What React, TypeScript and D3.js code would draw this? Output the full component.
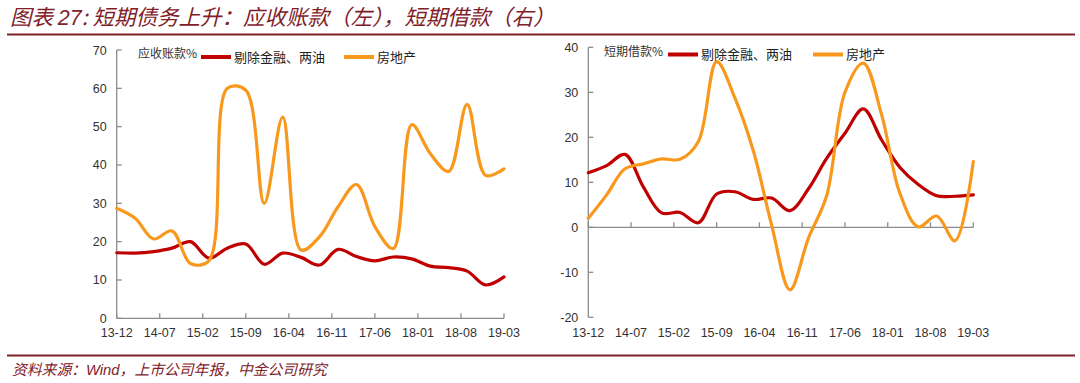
import React from "react";
import * as d3 from "d3";

const W = 1080;
const H = 383;

// quarterly data 13-12 .. 19-03 (22 points)
const quarterMonths = d3.range(22).map((i) => i * 3);
const tickLabels = ["13-12", "14-07", "15-02", "15-09", "16-04", "16-11", "17-06", "18-01", "18-08", "19-03"];
const tickMonths = tickLabels.map((_, i) => i * 7);

const seriesNames = ["剔除金融、两油", "房地产"];
const seriesColors = ["#C00000", "#F8981D"];

const arRed = [17.1, 17.0, 17.4, 18.3, 20.0, 15.7, 18.3, 19.4, 14.1, 17.0, 15.9, 13.9, 18.0, 16.1, 15.0, 16.0, 15.5, 13.6, 13.2, 12.3, 8.7, 10.8];
const arOrange = [28.7, 26.1, 20.7, 22.8, 14.3, 15.0, 60.0, 59.5, 30.0, 52.5, 17.8, 21.3, 29.1, 34.9, 23.9, 18.2, 50.5, 43.0, 38.3, 55.8, 37.3, 39.0];

const sbRed = [12.1, 13.7, 16.2, 9.0, 3.2, 3.3, 1.0, 7.4, 7.9, 6.2, 6.5, 3.7, 8.5, 15.3, 20.9, 26.3, 19.4, 13.3, 9.5, 7.0, 6.9, 7.2];
const sbOrange = [2.0, 7.2, 13.0, 14.1, 15.2, 15.1, 19.0, 36.8, 28.7, 17.0, 0.5, -13.9, -2.5, 7.0, 30.0, 36.5, 25.0, 7.5, 0.1, 2.5, -3.0, 14.6];

const leftYTicks = [0, 10, 20, 30, 40, 50, 60, 70];
const rightYTicks = [-20, -10, 0, 10, 20, 30, 40];

const CJK = "'Noto Sans CJK SC', sans-serif";
const LAT = "'Liberation Sans', Arial, sans-serif";
const TITLE_COLOR = "#7f2129";
const AXIS_COLOR = "#8c8c8c";
const LABEL_COLOR = "#333333";

type PanelProps = {
  x0: number;
  x1: number;
  yTop: number;
  yBottom: number;
  domain: [number, number];
  yTicks: number[];
  series: number[][];
  legendTitle: string;
  legendTitleX: number;
  legendSwatches: number[];
  legendY: number;
};

function Panel(p: PanelProps) {
  const x = d3.scaleLinear().domain([0, 63]).range([p.x0, p.x1]);
  const y = d3.scaleLinear().domain(p.domain).range([p.yBottom, p.yTop]);
  const line = d3
    .line<number>()
    .x((_, i) => x(quarterMonths[i]))
    .y((d) => y(d))
    .curve(d3.curveCatmullRom.alpha(0.5));
  const zeroY = y(0);
  return (
    <g>
      <line x1={p.x0} x2={p.x0} y1={p.yTop} y2={p.yBottom} stroke={AXIS_COLOR} strokeWidth={1.3} />
      {p.yTicks.map((t) => (
        <g key={"y" + t}>
          <line x1={p.x0} x2={p.x0 + 5} y1={y(t)} y2={y(t)} stroke={AXIS_COLOR} strokeWidth={1.3} />
          <text x={p.x0 - 10} y={y(t) + 4.5} textAnchor="end" fontFamily={LAT} fontSize={12.5} fill={LABEL_COLOR}>
            {t}
          </text>
        </g>
      ))}
      <line x1={p.x0} x2={p.x1} y1={zeroY} y2={zeroY} stroke={AXIS_COLOR} strokeWidth={1.3} />
      {tickMonths.map((m, i) => (
        <g key={"x" + m}>
          <line x1={x(m)} x2={x(m)} y1={zeroY} y2={zeroY - 5} stroke={AXIS_COLOR} strokeWidth={1.3} />
          <text x={x(m)} y={337} textAnchor="middle" fontFamily={LAT} fontSize={12.5} fill={LABEL_COLOR}>
            {tickLabels[i]}
          </text>
        </g>
      ))}
      {p.series.map((s, k) => (
        <path key={"s" + k} d={line(s) || ""} fill="none" stroke={seriesColors[k]} strokeWidth={3.2} strokeLinejoin="round" strokeLinecap="round" />
      ))}
      <text x={p.legendTitleX} y={p.legendY + 4} fontFamily={CJK} fontSize={12} fill="#333">
        {p.legendTitle}
      </text>
      {p.legendSwatches.map((sx, k) => (
        <g key={"l" + k}>
          <line x1={sx} x2={sx + 30} y1={p.legendY + 3} y2={p.legendY + 3} stroke={seriesColors[k]} strokeWidth={4} />
          <text x={sx + 33} y={p.legendY + 7.5} fontFamily={CJK} fontSize={13} fill="#222">
            {seriesNames[k]}
          </text>
        </g>
      ))}
    </g>
  );
}

export default function App() {
  return (
    <svg width={W} height={H} style={{ position: "absolute", left: 0, top: 0, background: "#fff" }}>
      <rect width={W} height={H} fill="#fff" />
      <text x={10} y={25} fontFamily={CJK} fontSize={21.5} fontStyle="italic" fill={TITLE_COLOR}>
        图表 <tspan fontFamily={LAT}>27</tspan>: 短期债务上升：应收账款（左），短期借款（右）
      </text>
      <line x1={7} x2={1075} y1={34.5} y2={34.5} stroke={TITLE_COLOR} strokeWidth={1.8} />

      <Panel
        x0={116.7}
        x1={504}
        yTop={50}
        yBottom={318.3}
        domain={[0, 70]}
        yTicks={leftYTicks}
        series={[arRed, arOrange]}
        legendTitle="应收账款%"
        legendTitleX={138}
        legendSwatches={[201, 344]}
        legendY={54}
      />
      <Panel
        x0={588.3}
        x1={973.3}
        yTop={47.3}
        yBottom={317.3}
        domain={[-20, 40]}
        yTicks={rightYTicks}
        series={[sbRed, sbOrange]}
        legendTitle="短期借款%"
        legendTitleX={604}
        legendSwatches={[668, 813]}
        legendY={51.5}
      />

      <line x1={7} x2={1075} y1={355.5} y2={355.5} stroke={TITLE_COLOR} strokeWidth={1.8} />
      <text x={12} y={375} fontFamily={CJK} fontSize={14.8} fontStyle="italic" fill={TITLE_COLOR}>
        资料来源：<tspan fontFamily={LAT}>Wind</tspan>，上市公司年报，中金公司研究
      </text>
    </svg>
  );
}
